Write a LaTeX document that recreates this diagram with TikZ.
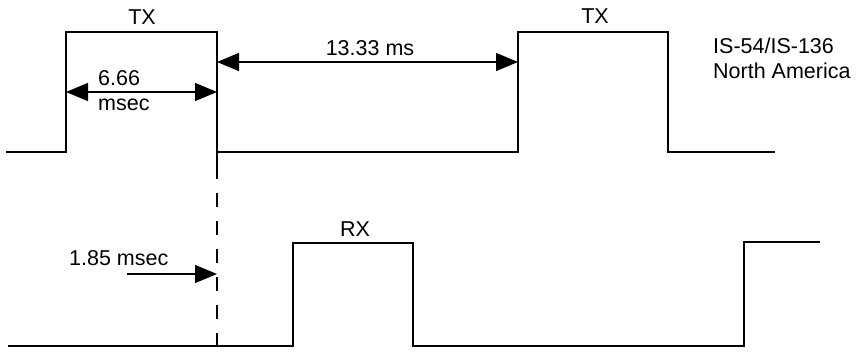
\documentclass[tikz,border=0pt]{standalone}
\usepackage{fontspec}
\setmainfont{Liberation Sans}
\usetikzlibrary{arrows.meta}
\begin{document}
\begin{tikzpicture}[x=1pt,y=-1pt,
  wave/.style={line width=1.6pt,line join=miter},
  dim/.style={line width=1.4pt,{Triangle[length=22pt,width=18pt]}-{Triangle[length=22pt,width=18pt]}},
  onearrow/.style={line width=1.4pt,-{Triangle[length=22pt,width=18pt]}},
  guide/.style={line width=1.4pt,dash pattern=on 14pt off 14pt},
  lbl/.style={font=\fontsize{21.5}{22}\selectfont,inner sep=0pt,anchor=base}]
\useasboundingbox (0,0) rectangle (860,351);
% top waveform corners
\coordinate (t0) at (6,152);
\coordinate (t1) at (66,152);
\coordinate (t2) at (66,32);
\coordinate (t3) at (217,32);
\coordinate (t4) at (217,152);
\coordinate (t4b) at (217,165);
\coordinate (t5) at (518,152);
\coordinate (t6) at (518,32);
\coordinate (t7) at (668,32);
\coordinate (t8) at (668,152);
\coordinate (t9) at (775,152);
\draw[wave] (t0) -- (t1) -- (t2) -- (t3) -- (t4b);
\draw[wave] (t4) -- (t5) -- (t6) -- (t7) -- (t8) -- (t9);
% bottom waveform corners
\coordinate (b0) at (8,346);
\coordinate (b1) at (293,346);
\coordinate (b2) at (293,243);
\coordinate (b3) at (413,243);
\coordinate (b4) at (413,346);
\coordinate (b5) at (744,346);
\coordinate (b6) at (744,242);
\coordinate (b7) at (820,242);
\draw[wave] (b0) -- (b1) -- (b2) -- (b3) -- (b4) -- (b5) -- (b6) -- (b7);
% dashed guide
\coordinate (g0) at (217,165);
\coordinate (g1) at (217,346);
\draw[guide] (g0) -- (g1);
% dimension arrows
\coordinate (a1) at (66,92);
\coordinate (a2) at (217,92);
\draw[dim] (a1) -- (a2);
\coordinate (c1) at (217,62);
\coordinate (c2) at (518,62);
\draw[dim] (c1) -- (c2);
\coordinate (d1) at (127,274);
\coordinate (d2) at (217,274);
\draw[onearrow] (d1) -- (d2);
% labels
\node[lbl] (tx1) at (142,24) {TX};
\node[lbl] (tx2) at (595,23) {TX};
\node[lbl] (rx) at (355,236.5) {RX};
\node[lbl] (l133) at (370,55) {13.33 ms};
\node[lbl,anchor=base west] (l666) at (98,85) {6.66};
\node[lbl,anchor=base west] (lmsec) at (98,110) {msec};
\node[lbl,anchor=base west] (l185) at (69,265) {1.85 msec};
\node[lbl,anchor=base west] (is) at (713,53) {IS-54/IS-136};
\node[lbl,anchor=base west] (na) at (713,78) {North America};
\end{tikzpicture}
\end{document}
